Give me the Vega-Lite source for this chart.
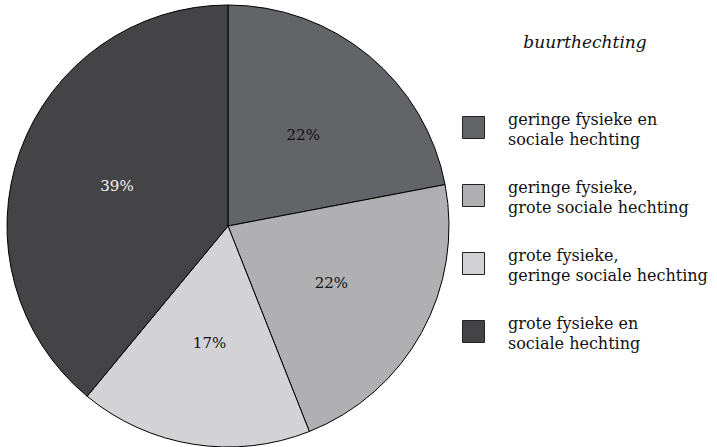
{
"$schema": "https://vega.github.io/schema/vega-lite/v6.json",
"width": 456,
"height": 452,
"autosize": {"type": "none"},
"padding": {"left": 0, "top": 0, "right": 261, "bottom": 0},
"background": "white",
"data": {"values": [
{"cat": "geringe fysieke en\nsociale hechting", "pct": 22, "txt": "22%", "order": 1},
{"cat": "geringe fysieke,\ngrote sociale hechting", "pct": 22, "txt": "22%", "order": 2},
{"cat": "grote fysieke,\ngeringe sociale hechting", "pct": 17, "txt": "17%", "order": 3},
{"cat": "grote fysieke en\nsociale hechting", "pct": 39, "txt": "39%", "order": 4}
]},
"encoding": {
"theta": {"field": "pct", "type": "quantitative", "stack": true},
"order": {"field": "order", "type": "quantitative"}
},
"layer": [
{
"mark": {"type": "arc", "outerRadius": 221, "stroke": "black", "strokeWidth": 1},
"encoding": {
"color": {
"field": "cat", "type": "nominal",
"scale": {
"domain": ["geringe fysieke en\nsociale hechting", "geringe fysieke,\ngrote sociale hechting", "grote fysieke,\ngeringe sociale hechting", "grote fysieke en\nsociale hechting"],
"range": ["#636468", "#b0b0b3", "#d3d3d5", "#444446"]
},
"legend": {
"title": "buurthechting",
"orient": "none",
"legendX": 462,
"legendY": 35,
"titleFont": "DejaVu Serif",
"titleFontStyle": "italic",
"titleFontWeight": "normal",
"titleFontSize": 17,
"titleColor": "#111",
"titleAnchor": "middle",
"titlePadding": 64,
"labelFont": "DejaVu Serif",
"labelFontSize": 16,
"labelColor": "#111",
"labelBaseline": "bottom",
"labelExpr": "split(datum.label, '\\n')",
"labelOffset": 23,
"labelLimit": 400,
"symbolType": "square",
"symbolSize": 484,
"symbolStrokeColor": "#222",
"symbolStrokeWidth": 1,
"symbolOpacity": 1,
"rowPadding": 31
}
}
}
},
{
"mark": {"type": "text", "radius": 118, "font": "DejaVu Serif", "fontSize": 15},
"encoding": {
"text": {"field": "txt", "type": "nominal"},
"color": {"condition": {"test": "datum.order === 4", "value": "#f2f2f2"}, "value": "#111"}
}
}
],
"config": {
"view": {"stroke": null},
"style": {"guide-label": {"lineHeight": 20}}
}
}
